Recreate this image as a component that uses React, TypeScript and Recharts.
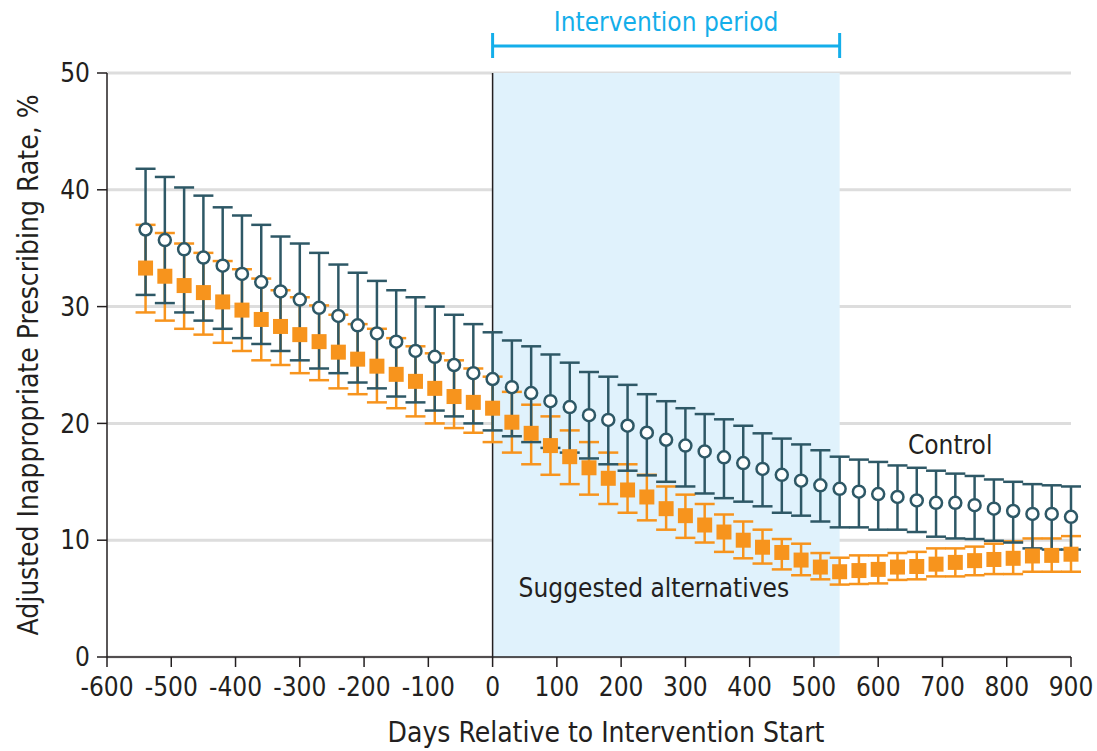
import React from 'react';
import {
  ComposedChart,
  Scatter,
  XAxis,
  YAxis,
  CartesianGrid,
  ReferenceArea,
  ReferenceLine,
  ReferenceDot,
  ErrorBar,
} from 'recharts';

const days = [
  -540, -510, -480, -450, -420, -390, -360, -330, -300, -270, -240, -210, -180, -150, -120, -90, -60, -30,
  0, 30, 60, 90, 120, 150, 180, 210, 240, 270, 300, 330, 360, 390, 420, 450, 480, 510, 540,
  570, 600, 630, 660, 690, 720, 750, 780, 810, 840, 870, 900,
];

const controlRate = [
  36.6, 35.7, 34.9, 34.2, 33.5, 32.8, 32.1, 31.3, 30.6, 29.9, 29.2, 28.4, 27.7, 27.0, 26.2, 25.7, 25.0, 24.3,
  23.8, 23.1, 22.6, 21.9, 21.4, 20.7, 20.3, 19.8, 19.2, 18.6, 18.1, 17.6, 17.1, 16.6, 16.1, 15.6, 15.1, 14.7, 14.4,
  14.15, 13.95, 13.7, 13.4, 13.2, 13.2, 13.0, 12.7, 12.5, 12.25, 12.25, 12.0,
];
const controlUpper = [
  41.8, 41.1, 40.2, 39.5, 38.5, 37.8, 37.0, 36.0, 35.4, 34.6, 33.6, 32.9, 32.2, 31.4, 30.8, 30.0, 29.3, 28.5,
  27.8, 27.1, 26.6, 25.9, 25.2, 24.4, 24.0, 23.3, 22.5, 21.9, 21.3, 20.8, 20.35, 19.8, 19.15, 18.7, 18.2, 17.7, 17.15,
  16.9, 16.7, 16.4, 16.2, 15.95, 15.7, 15.5, 15.2, 15.0, 14.8, 14.7, 14.6,
];
const controlLower = [
  31.0, 30.3, 29.5, 28.8, 28.1, 27.3, 26.8, 26.2, 25.4, 24.7, 24.3, 23.5, 23.0, 22.3, 21.8, 21.1, 20.6, 20.0,
  19.4, 18.9, 18.4, 17.9, 17.5, 17.0, 16.5, 15.95, 15.55, 15.0, 14.6, 14.0, 13.6, 13.3, 12.9, 12.35, 12.1, 11.6, 11.1,
  11.1, 10.9, 10.9, 10.7, 10.3, 10.15, 10.1, 9.95, 9.8, 9.3, 9.2, 9.2,
];

const altRate = [
  33.3, 32.6, 31.8, 31.2, 30.4, 29.7, 28.9, 28.3, 27.6, 27.0, 26.1, 25.5, 24.9, 24.2, 23.6, 23.0, 22.3, 21.8,
  21.3, 20.1, 19.15, 18.1, 17.15, 16.2, 15.3, 14.3, 13.7, 12.7, 12.1, 11.3, 10.7, 10.0, 9.4, 8.95, 8.3, 7.7, 7.3,
  7.4, 7.5, 7.7, 7.75, 7.95, 8.1, 8.25, 8.35, 8.45, 8.65, 8.7, 8.8,
];
const altUpper = [
  37.0, 36.3, 35.4, 34.6, 33.9, 33.2, 32.4, 31.4, 30.8, 30.1, 29.3, 28.5, 28.1, 27.3, 26.6, 26.0, 25.4, 24.7,
  24.0, 22.7, 21.6, 20.6, 19.4, 18.4, 17.5, 16.5, 15.6, 14.6, 13.9, 13.1, 12.2, 11.6, 10.9, 10.1, 9.7, 8.9, 8.5,
  8.7, 8.7, 8.9, 9.0, 9.3, 9.3, 9.45, 9.7, 9.9, 10.15, 10.15, 10.35,
];
const altLower = [
  29.5, 28.8, 28.1, 27.6, 26.9, 26.2, 25.4, 25.0, 24.3, 23.7, 23.0, 22.5, 21.8, 21.3, 20.6, 20.0, 19.6, 19.2,
  18.4, 17.5, 16.5, 15.6, 14.8, 13.9, 13.1, 12.35, 11.7, 10.9, 10.2, 9.8, 9.0, 8.45, 8.0, 7.5, 7.0, 6.65, 6.2,
  6.25, 6.3, 6.6, 6.65, 6.9, 6.9, 7.0, 7.1, 7.1, 7.3, 7.3, 7.3,
];

const xTicks = [-600, -500, -400, -300, -200, -100, 0, 100, 200, 300, 400, 500, 600, 700, 800, 900];
const yTicks = [0, 10, 20, 30, 40, 50];

const interventionStart = 0;
const interventionEnd = 540;

const data = days.map((d, i) => ({
  day: d,
  control: controlRate[i],
  controlErr: [controlRate[i] - controlLower[i], controlUpper[i] - controlRate[i]],
  alt: altRate[i],
  altErr: [altRate[i] - altLower[i], altUpper[i] - altRate[i]],
}));

const FONT = "'DejaVu Sans Condensed', 'DejaVu Sans', sans-serif";
const TEXT = '#231f20';
const CONTROL = '#2e5866';
const ORANGE = '#f7941d';
const BLUE = '#14aeea';

const CircleShape = (p: any) => (
  <circle cx={p.cx} cy={p.cy} r={6} fill="#ffffff" stroke={CONTROL} strokeWidth={2.5} />
);
const SquareShape = (p: any) => (
  <rect x={p.cx - 7.5} y={p.cy - 7.5} width={15} height={15} fill={ORANGE} />
);

const Bracket = (props: any) => {
  const vb = props.viewBox || {};
  const x1 = vb.x;
  const x2 = vb.x + vb.width;
  const y = vb.y - 27;
  return (
    <g>
      <line x1={x1} y1={y} x2={x2} y2={y} stroke={BLUE} strokeWidth={3} />
      <line x1={x1} y1={y - 13} x2={x1} y2={y + 12} stroke={BLUE} strokeWidth={3} />
      <line x1={x2} y1={y - 13} x2={x2} y2={y + 12} stroke={BLUE} strokeWidth={3} />
      <text
        x={(x1 + x2) / 2}
        y={y - 15}
        textAnchor="middle"
        fill={BLUE}
        fontSize={26}
        fontFamily={FONT}
      >
        Intervention period
      </text>
    </g>
  );
};

export default function App() {
  return (
    <div style={{ position: 'absolute', left: 0, top: 0, background: '#fff' }}>
      <ComposedChart
        width={1097}
        height={751}
        data={data}
        margin={{ top: 73, right: 26, bottom: 0, left: 0 }}
      >
        <ReferenceArea
          x1={interventionStart}
          x2={interventionEnd}
          y1={0}
          y2={50}
          fill="#e0f2fc"
          fillOpacity={1}
          stroke="none"
          label={<Bracket />}
        />
        <CartesianGrid vertical={false} stroke="#dddddd" strokeWidth={3} />
        <XAxis
          type="number"
          dataKey="day"
          domain={[-600, 900]}
          ticks={xTicks}
          interval={0}
          height={94}
          tickSize={10}
          tickMargin={11}
          axisLine={{ stroke: TEXT, strokeWidth: 1.5 }}
          tickLine={{ stroke: TEXT, strokeWidth: 1.5 }}
          tick={{ fill: TEXT, fontSize: 26, fontFamily: FONT }}
          label={{
            value: 'Days Relative to Intervention Start',
            position: 'insideBottom',
            offset: 9,
            dx: 17,
            fill: TEXT,
            fontSize: 28,
            fontFamily: FONT,
          }}
        />
        <YAxis
          type="number"
          domain={[0, 50]}
          ticks={yTicks}
          interval={0}
          width={107}
          tickSize={10}
          tickMargin={7}
          axisLine={{ stroke: TEXT, strokeWidth: 1.5 }}
          tickLine={{ stroke: TEXT, strokeWidth: 1.5 }}
          tick={{ fill: TEXT, fontSize: 26, fontFamily: FONT }}
          label={{
            value: 'Adjusted Inappropriate Prescribing Rate, %',
            angle: -90,
            position: 'insideLeft',
            offset: 28,
            style: { textAnchor: 'middle' },
            fill: TEXT,
            fontSize: 28,
            fontFamily: FONT,
          }}
        />
        <ReferenceLine x={interventionStart} stroke={TEXT} strokeWidth={1.5} />
        <Scatter dataKey="alt" shape={SquareShape} isAnimationActive={false}>
          <ErrorBar dataKey="altErr" direction="y" width={10} stroke={ORANGE} strokeWidth={2.5} />
        </Scatter>
        <Scatter dataKey="control" shape={CircleShape} isAnimationActive={false}>
          <ErrorBar dataKey="controlErr" direction="y" width={10} stroke={CONTROL} strokeWidth={2.5} />
        </Scatter>
        <ReferenceDot
          x={712}
          y={18.2}
          r={0}
          fill="none"
          stroke="none"
          label={{ value: 'Control', position: 'center', fill: TEXT, fontSize: 26, fontFamily: FONT }}
        />
        <ReferenceDot
          x={251}
          y={5.9}
          r={0}
          fill="none"
          stroke="none"
          label={{
            value: 'Suggested alternatives',
            position: 'center',
            fill: TEXT,
            fontSize: 26,
            fontFamily: FONT,
          }}
        />
      </ComposedChart>
    </div>
  );
}
